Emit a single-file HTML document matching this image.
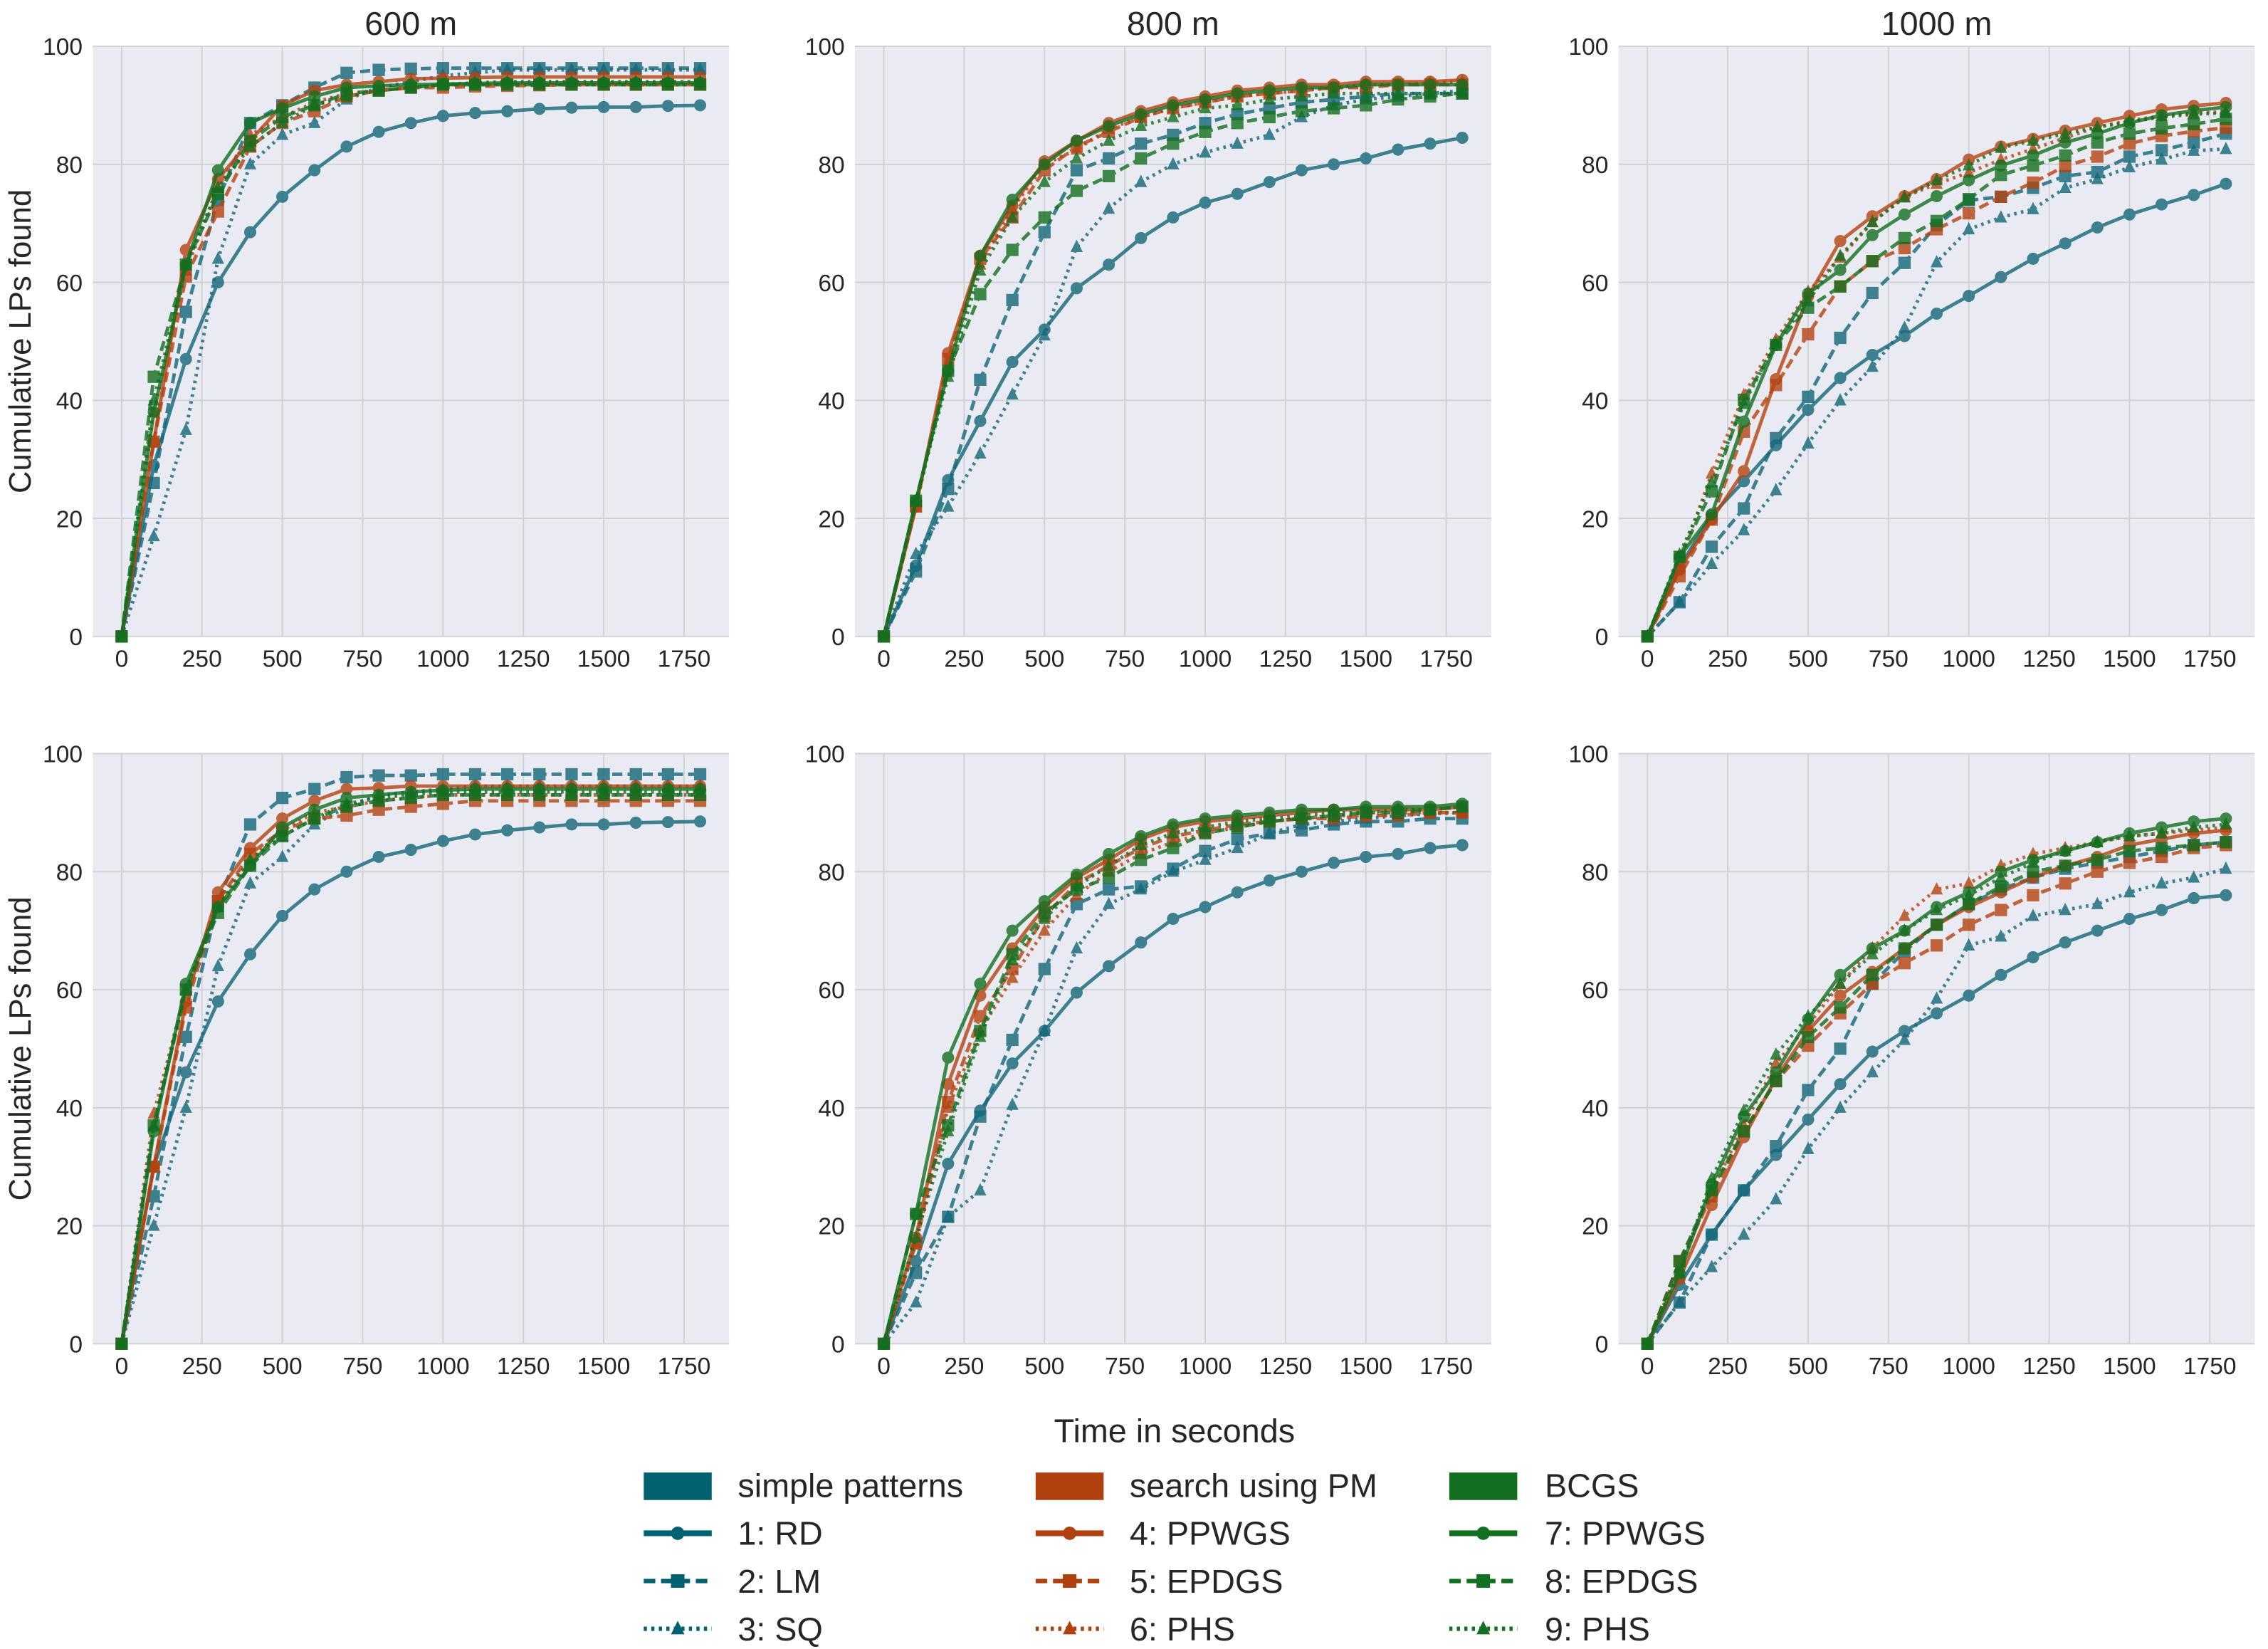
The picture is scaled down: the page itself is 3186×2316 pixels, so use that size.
<!DOCTYPE html>
<html><head><meta charset="utf-8"><style>
html,body{margin:0;padding:0;background:#fff;}
svg{display:block;font-family:"Liberation Sans",sans-serif;}
</style></head><body>
<svg id="fig" xmlns="http://www.w3.org/2000/svg" width="3186" height="2316" viewBox="0 0 1568 1140"></svg>
<script>
const xs = [0,100,200,300,400,500,600,700,800,900,1000,1100,1200,1300,1400,1500,1600,1700,1800];
const xTicks = [0,250,500,750,1000,1250,1500,1750];
const yTicks = [0,20,40,60,80,100];
const panelTitles = ["600 m","800 m","1000 m","","",""];
const seriesNames = ["1: RD","2: LM","3: SQ","4: PPWGS","5: EPDGS","6: PHS","7: PPWGS","8: EPDGS","9: PHS"];
const groupNames = ["simple patterns","search using PM","BCGS"];
// panel 1: 600 m top
const p1RD=[0,29,47,60,68.5,74.5,79,83,85.5,87,88.2,88.7,89,89.4,89.6,89.7,89.7,89.9,90];
const p1LM=[0,26,55,74,87,90,93,95.5,96,96.2,96.3,96.3,96.3,96.3,96.3,96.3,96.3,96.3,96.3];
const p1SQ=[0,17,35,64,80,85,87,91,93,94,95,95.5,96,96,96,96,96,96,96];
const p1PM1=[0,33,65.5,77.5,84,90,92.5,93.5,94,94.5,94.6,94.7,94.8,94.8,94.8,94.8,94.8,94.8,94.8];
const p1PM2=[0,33,61,72,83,87,89,91.5,92.5,93,93,93.2,93.3,93.4,93.5,93.5,93.5,93.5,93.5];
const p1PM3=[0,38,62,76,85,88,90.5,92,92.5,93,93.5,93.5,93.5,93.5,93.5,93.5,93.5,93.5,93.5];
const p1BC1=[0,38,63,79,87,89.5,91.5,93,93.3,93.5,93.6,93.7,93.8,93.8,93.8,93.8,93.8,93.8,93.8];
const p1BC2=[0,44,63,75,84,88,90,92,92.5,93,93.5,93.5,93.5,93.5,93.5,93.5,93.5,93.5,93.5];
const p1BC3=[0,40,63,76,83,87,90,91.5,92.5,93,93.5,93.8,94,94,94,94,94,94,94];
// panel 2: 800 m top
const p2RD=[0,12,26.5,36.5,46.5,52,59,63,67.5,71,73.5,75,77,79,80,81,82.5,83.5,84.5];
const p2LM=[0,11,25,43.5,57,68.5,79,81,83.5,85,87,88.5,89.5,90.5,91,91.5,92,92,92];
const p2SQ=[0,14,22,31,41,51,66,72.5,77,80,82,83.5,85,88,90,91,91.5,92,92.5];
const p2PM1=[0,22,48,64.5,73,80.5,84,87,89,90.5,91.5,92.5,93,93.5,93.5,94,94,94,94.3];
const p2PM2=[0,22,47,64,71,79,83,85.5,88,89.5,90.5,91.5,92,92.5,93,93,93.5,93.5,93.5];
const p2PM3=[0,22,46,63,72.5,80,82.5,86,88,89.5,90.5,91.5,92,92.5,93,93.5,93.5,93.8,94];
const p2BC1=[0,23,45,64.5,74,80,84,86.5,88.5,90,91,92,92.5,93,93,93.5,93.5,93.5,93.5];
const p2BC2=[0,23,45,58,65.5,71,75.5,78,81,83.5,85.5,87,88,89,89.5,90,91,91.5,92];
const p2BC3=[0,23,44,62,71,77,81,84,86.5,88,89.5,90,91,91.5,92,92,92,92,92];
// panel 3: 1000 m top
const p3RD=[0,11.8,20.5,26.3,32.4,38.4,43.8,47.7,50.9,54.7,57.7,60.9,64,66.6,69.3,71.5,73.2,74.8,76.7];
const p3LM=[0,5.8,15.2,21.7,33.6,40.6,50.6,58.2,63.3,69.7,73.9,74.5,76,78,78.7,81.3,82.4,83.7,85.2];
const p3SQ=[0,5.8,12.3,18,24.8,32.7,40,45.7,52.3,63.4,69,71,72.4,76,77.5,79.5,80.8,82.3,82.6];
const p3PM1=[0,11.3,19.8,28,43.6,57.6,67,71.2,74.6,77.5,80.8,83,84.3,85.7,87,88.2,89.3,89.9,90.4];
const p3PM2=[0,10.2,19.8,34.7,42.6,51.2,59.3,63.6,65.8,69,71.7,74.5,76.9,79.7,81.3,83.5,84.8,85.6,86.2];
const p3PM3=[0,12.4,27.6,40.9,50.3,58.4,64.2,70.2,74.5,76.7,78.6,80.8,82.6,84.5,86.3,87.4,88.2,88.7,88.9];
const p3BC1=[0,13.5,20.7,36.4,49.4,58.1,62.1,68,71.5,74.6,77.3,79.8,81.5,83.7,85.2,87,88.3,89.1,89.7];
const p3BC2=[0,13.5,24.6,40.1,49.4,55.7,59.3,63.6,67.5,70.4,74.1,78.2,79.8,81.5,83.7,85.2,86.1,86.8,87.7];
const p3BC3=[0,13.9,26.1,39.4,49.7,56.8,64.5,70.2,74.4,77.3,79.8,82.8,84,85.2,86.3,87.2,88,88.5,88.7];
// panel 4: 600 m bottom
const p4RD=[0,30,46,58,66,72.5,77,80,82.5,83.7,85.2,86.3,87,87.5,88,88,88.3,88.4,88.5];
const p4LM=[0,25,52,75,88,92.5,94,96,96.3,96.3,96.5,96.5,96.5,96.5,96.5,96.5,96.5,96.5,96.5];
const p4SQ=[0,20,40,64,78,82.5,88,91,93,93.5,94,94.5,94.5,94.5,94.5,94.5,94.5,94.5,94.5];
const p4PM1=[0,30,58,76.5,84,89,92,94,94.2,94.5,94.5,94.5,94.5,94.5,94.5,94.5,94.5,94.5,94.5];
const p4PM2=[0,30,57,75,83,87,89,89.5,90.5,91,91.5,92,92,92,92,92,92,92,92];
const p4PM3=[0,39,60,75,82,87,90,91,92,92.5,93,93,93,93,93,93,93,93,93];
const p4BC1=[0,36,61,74,81,87.5,90.5,92.5,93,93.5,93.8,94,94,94,94,94,94,94,94];
const p4BC2=[0,37,60,73,81,86,89,91,92,92.5,93,93,93,93,93,93,93,93,93];
const p4BC3=[0,37,60,74,82,86,89,91.5,92.5,93,93.5,93.5,93.5,93.5,93.5,93.5,93.5,93.5,93.5];
// panel 5: 800 m bottom
const p5RD=[0,14,30.5,39.5,47.5,53,59.5,64,68,72,74,76.5,78.5,80,81.5,82.5,83,84,84.5];
const p5LM=[0,12,21.5,38.5,51.5,63.5,74.5,77,77.5,80.5,83.5,85.5,86.5,87,88,88.5,88.5,89,89];
const p5SQ=[0,7,21.5,26,40.5,53,67,74.5,77,80,82,84,86.5,88,88.5,89,89.5,89.8,90];
const p5PM1=[0,18,44,59,67,74,79,82,85.5,87.5,88.5,89,89.5,90,90.5,90.5,90.5,90.5,91];
const p5PM2=[0,17,41,55.5,63.5,72.5,78,81,84,86,87,88,88.5,89,89,89.5,89.5,90,90];
const p5PM3=[0,17,40,53,62,70,76,80,83,85,86.5,87.5,88.5,89,89.5,89.5,90,90,90];
const p5BC1=[0,22,48.5,61,70,75,79.5,83,86,88,89,89.5,90,90.5,90.5,91,91,91,91.5];
const p5BC2=[0,22,37,53,66,73,77,79,82,84,86.5,87.5,88.5,89,89.5,90,90,90.5,91];
const p5BC3=[0,18,36,52,65,72,77.5,81,84.5,86.5,87.5,88.5,89,89.5,90,90,90.5,90.5,91];
// panel 6: 1000 m bottom
const p6RD=[0,10,18.5,26,32,38,44,49.5,53,56,59,62.5,65.5,68,70,72,73.5,75.5,76];
const p6LM=[0,7,18.5,26,33.5,43,50,61,66.5,71,74.5,77,79,80.5,81.5,82.5,83.5,84.5,85];
const p6SQ=[0,7,13,18.5,24.5,33,40,46,51.5,58.5,67.5,69,72.5,73.5,74.5,76.5,78,79,80.5];
const p6PM1=[0,11,23.5,35,45,53,59,63,67,71,74,76.5,79,81,82.5,84.5,85.5,86.5,87];
const p6PM2=[0,14,25,36,44.5,50.5,56,61,64.5,67.5,71,73.5,76,78,80,81.5,82.5,84,84.5];
const p6PM3=[0,13,26,37,47.5,54,61,67,72.5,77,78,81,83,84,85,86,86.5,87,87.5];
const p6BC1=[0,12,27,38.5,46,55,62.5,67,70,74,76.5,80,82,83.5,85,86.5,87.5,88.5,89];
const p6BC2=[0,14,26,36,44.5,52,57,62.5,67,71,74.5,77.5,80,81,82,83.5,84,84.5,85];
const p6BC3=[0,12,28,39.5,49,55.5,61,66,70,73.5,76,79,81.5,83.5,85,86,86.5,87.5,88];

const panelsData=[
 [p1RD,p1LM,p1SQ,p1PM1,p1PM2,p1PM3,p1BC1,p1BC2,p1BC3],
 [p2RD,p2LM,p2SQ,p2PM1,p2PM2,p2PM3,p2BC1,p2BC2,p2BC3],
 [p3RD,p3LM,p3SQ,p3PM1,p3PM2,p3PM3,p3BC1,p3BC2,p3BC3],
 [p4RD,p4LM,p4SQ,p4PM1,p4PM2,p4PM3,p4BC1,p4BC2,p4BC3],
 [p5RD,p5LM,p5SQ,p5PM1,p5PM2,p5PM3,p5BC1,p5BC2,p5BC3],
 [p6RD,p6LM,p6SQ,p6PM1,p6PM2,p6PM3,p6BC1,p6BC2,p6BC3]];

const COLORS=["#12677a","#b5430f","#137020"];
const LEG=["#006170","#b0400e","#137020"];
const DASH=[null,"7,3.5","1.8,3"];
const NS="http://www.w3.org/2000/svg";
const svg=document.getElementById('fig');
function mk(tag,attrs,parent){const e=document.createElementNS(NS,tag);for(const k in attrs)e.setAttribute(k,attrs[k]);(parent||svg).appendChild(e);return e;}

const PX=[64,591,1119], PY=[32,521], PW=440, PH=408;
const XMIN=-90, XMAX=1890;

function marker(g,type,cx,cy,col,size){
  let m;
  if(type===0){m=mk('circle',{cx:cx,cy:cy,r:4.2*size,fill:col},g);}
  else if(type===1){const s=8.5*size;m=mk('rect',{x:cx-s/2,y:cy-s/2,width:s,height:s,fill:col},g);}
  else {const s=5*size;m=mk('polygon',{points:`${cx},${cy-s} ${cx-s*0.85},${cy+s*0.7} ${cx+s*0.85},${cy+s*0.7}`,fill:col},g);}
  return m;
}

for(let p=0;p<6;p++){
  const x0=PX[p%3], y0=PY[Math.floor(p/3)];
  const sx=v=>x0+(v-XMIN)/(XMAX-XMIN)*PW;
  const sy=v=>y0+PH-(v/100)*PH;
  const g=mk('g',{});
  
  
  const bg=mk('rect',{x:x0,y:y0,width:PW,height:PH,fill:"#eaeaf2"},g);
  
  
  for(const t of yTicks){
    const l=mk('line',{x1:x0,x2:x0+PW,y1:sy(t),y2:sy(t),stroke:"#cfcfd6","stroke-width":0.9},g);
    
    
    const tx=mk('text',{x:x0-7,y:sy(t)+6,"text-anchor":"end","font-size":16.5,fill:"#262626"},g);
    tx.textContent=t;
    
    
  }
  for(const t of xTicks){
    const l=mk('line',{x1:sx(t),x2:sx(t),y1:y0,y2:y0+PH,stroke:"#cfcfd6","stroke-width":0.9},g);
    
    
    const tx=mk('text',{x:sx(t),y:y0+PH+21,"text-anchor":"middle","font-size":16.5,fill:"#262626"},g);
    tx.textContent=t;
    
    
  }
  if(panelTitles[p]){
    const tt=mk('text',{x:x0+PW/2,y:y0-8,"text-anchor":"middle","font-size":23,fill:"#262626"},g);
    tt.textContent=panelTitles[p];
    
    
  }
  const data=panelsData[p];
  for(let s=0;s<9;s++){
    const col=COLORS[Math.floor(s/3)], st=s%3;
    const sg=mk('g',{opacity:0.8},g);
    
    
    const pts=data[s].map((v,i)=>sx(xs[i])+","+sy(v)).join(" ");
    const attrs={points:pts,fill:"none",stroke:col,"stroke-width":2.4,"stroke-linejoin":"round"};
    if(DASH[st])attrs["stroke-dasharray"]=DASH[st];
    const pl=mk('polyline',attrs,sg);
    
    
    data[s].forEach((v,i)=>{
      const m=marker(sg,st,sx(xs[i]),sy(v),col,1);
      
      
    });
  }
}
// axis titles
for(const yc of [236,725]){
  const t=mk('text',{x:0,y:0,transform:`translate(21,${yc}) rotate(-90)`,"text-anchor":"middle","font-size":21.5,fill:"#262626"});
  t.textContent="Cumulative LPs found";
  
  
}
const xt=mk('text',{x:812,y:997,"text-anchor":"middle","font-size":23,fill:"#262626"});
xt.textContent="Time in seconds";


// legend
const LX=[445,716,1002], LTX=[510,781,1068], LY=[1027,1060,1093,1126];
for(let c=0;c<3;c++){
  const r=mk('rect',{x:LX[c],y:LY[0]-9,width:47,height:19,fill:LEG[c]});
  
  
  const t=mk('text',{x:LTX[c],y:LY[0]+8,"font-size":23,fill:"#262626"});
  t.textContent=groupNames[c];
  
  
  for(let k=0;k<3;k++){
    const y=LY[k+1];
    const a={x1:LX[c],x2:LX[c]+47,y1:y,y2:y,stroke:LEG[c],"stroke-width":k===0?4:3};
    if(DASH[k])a["stroke-dasharray"]=k===1?"8,4":"2.2,3";
    const l=mk('line',a);
    
    
    const m=marker(svg,k,LX[c]+23.5,y,LEG[c],1.1);
    
    
    const tx=mk('text',{x:LTX[c],y:y+8,"font-size":23,fill:"#262626"});
    tx.textContent=seriesNames[3*c+k];
    
    
  }
}
</script>
</body></html>
